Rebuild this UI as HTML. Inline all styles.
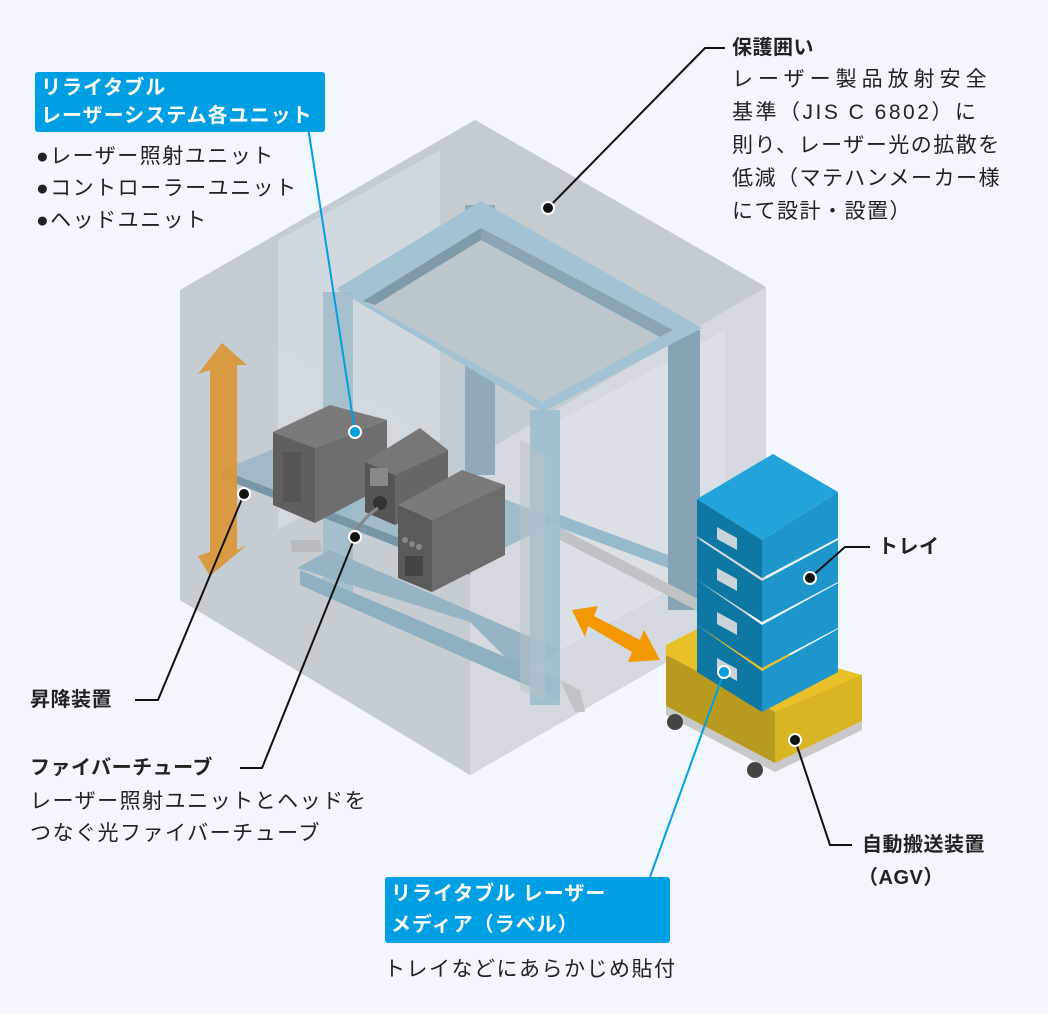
<!DOCTYPE html>
<html><head><meta charset="utf-8"><style>
html,body{margin:0;padding:0;background:#f1f7fc;}
body{width:1048px;height:1014px;position:relative;overflow:hidden;font-family:"Liberation Sans","Noto Sans CJK JP",sans-serif;color:#222;}
.t{position:absolute;font-size:21px;line-height:32px;white-space:nowrap;letter-spacing:1.5px;}
.b{font-weight:bold;font-size:20px;letter-spacing:0.5px;}
.box{position:absolute;background:#009fe3;color:#fff;font-size:20px;line-height:28px;padding:2px 6px;border-radius:3px;white-space:nowrap;letter-spacing:1px;font-weight:bold;}
svg{position:absolute;left:0;top:0;}
</style></head><body>
<svg width="1048" height="1014" viewBox="0 0 1048 1014">
<!-- enclosure -->
<polygon points="180,290 475,120 766,287 766,605 470,775 180,600" fill="#c9d0d6"/>
<polygon points="180,290 470,460 470,775 180,600" fill="#c5ccd2"/>
<polygon points="470,460 766,287 766,605 470,775" fill="#d3d9de"/>
<polygon points="180,290 475,120 766,287 470,460" fill="#c4cbd1"/>
<polygon points="278,240 440,150 440,440 278,530" fill="#d6dde2" opacity="0.7"/>
<polygon points="560,420 725,330 725,560 560,650" fill="#dfe5e9" opacity="0.6"/>
<!-- frame back leg, right leg -->
<rect x="465" y="205" width="30" height="270" fill="#8fabba"/>
<rect x="668" y="330" width="32" height="280" fill="#86a4b4"/>
<!-- rails -->
<polygon points="560,515 668,555 668,568 560,528" fill="#96b9cc"/>
<polygon points="560,528 700,600 700,612 560,540" fill="#bfc3c6"/>
<!-- top frame -->
<polygon points="336,289 481,201 702,328 543,412" fill="#a3c2d3"/>
<polygon points="363,301 481,228 673,330 543,402" fill="#bcc6cd"/>
<polygon points="363,301 481,228 481,240 375,305" fill="#7f9aa8"/>
<polygon points="481,228 673,330 660,337 481,240" fill="#8aa6b5"/>
<!-- left leg -->
<rect x="323" y="292" width="30" height="300" fill="#9fbccb" opacity="0.85"/>
<!-- lift table shelves -->
<polygon points="297,568 330,550 560,650 545,660 520,672 470,622" fill="#96b4c4"/>
<polygon points="222,470 320,430 560,520 470,565" fill="#9ab8c8" opacity="0.9"/>
<polygon points="222,470 470,565 470,575 222,478" fill="#7896a5"/>
<polygon points="300,570 560,680 560,700 300,585" fill="#8fb0c1"/>
<polygon points="290,540 320,540 322,552 292,552" fill="#b7bcc0"/>
<!-- units: tower -->
<polygon points="273,432 315,448 315,523 273,505" fill="#5f5f5f"/>
<polygon points="315,448 387,420 387,485 315,523" fill="#6e6e6e"/>
<polygon points="273,432 330,405 387,420 315,448" fill="#7a7a7a"/>
<rect x="283" y="452" width="18" height="50" fill="#555"/>
<!-- head unit -->
<polygon points="365,462 395,475 395,525 365,512" fill="#555"/>
<polygon points="395,475 448,450 448,500 395,525" fill="#666"/>
<polygon points="365,462 420,428 448,450 395,475" fill="#777"/>
<circle cx="380" cy="503" r="7" fill="#333"/>
<rect x="370" y="468" width="18" height="18" fill="#888"/>
<path d="M378 508 Q360 520 352 540" stroke="#888" stroke-width="3" fill="none"/>
<!-- controller -->
<polygon points="398,505 432,520 432,592 398,578" fill="#5a5a5a"/>
<polygon points="432,520 505,485 505,555 432,592" fill="#6c6c6c"/>
<polygon points="398,505 462,470 505,485 432,520" fill="#7a7a7a"/>
<circle cx="405" cy="540" r="3" fill="#888"/><circle cx="412" cy="544" r="3" fill="#888"/><circle cx="419" cy="547" r="3" fill="#888"/>
<rect x="405" y="556" width="18" height="20" fill="#444"/>
<!-- front leg -->
<rect x="530" y="410" width="30" height="295" fill="#9dbccd" opacity="0.9"/>
<polygon points="520,440 545,455 545,700 520,690" fill="#b9c2c8" opacity="0.5"/>
<polygon points="560,680 580,690 585,712 575,712" fill="#c0c4c7"/>
<!-- orange arrows -->
<polygon points="222,343 247,365 237,365 237,550 247,545 210,576 198,556 210,552 210,370 198,374" fill="#d9973a" opacity="0.95"/>
<polygon points="572,610 598,606 594,616 640,640 644,630 660,660 628,662 632,652 588,626 585,637" fill="#f39800"/>
<!-- AGV -->
<polygon points="666,645 697,629 862,675 862,721 775,763 666,706" fill="#e8c12a"/>
<polygon points="666,655 775,712 775,763 666,706" fill="#b89a20"/>
<polygon points="775,712 862,675 862,721 775,763" fill="#d8b524"/>
<polygon points="666,706 775,763 862,721 862,730 775,772 666,715" fill="#c8c8c8"/>
<circle cx="675" cy="722" r="8" fill="#444"/><circle cx="755" cy="770" r="8" fill="#444"/>
<!-- trays -->
<g>
<polygon points="697,625 762,671 762,712 697,672" fill="#0e77a3"/>
<polygon points="762,671 838,629 838,672 762,712" fill="#1e96cc"/>
<polygon points="697,580 762,625 762,668 697,625" fill="#0e77a3"/>
<polygon points="762,625 838,583 838,628 762,668" fill="#1e96cc"/>
<polygon points="697,538 762,581 762,622 697,580" fill="#0e77a3"/>
<polygon points="762,581 838,540 838,582 762,622" fill="#1e96cc"/>
<polygon points="697,499 762,540 762,578 697,536" fill="#0e77a3"/>
<polygon points="762,540 838,492 838,538 762,578" fill="#1e96cc"/>
<polygon points="697,499 773,454 838,492 762,540" fill="#22a3d9"/>
<polygon points="717,527 737,538 737,550 717,539" fill="#c9d4da"/>
<polygon points="717,568 737,579 737,591 717,580" fill="#c9d4da"/>
<polygon points="717,612 737,623 737,635 717,624" fill="#c9d4da"/>
<polygon points="717,658 737,669 737,681 717,670" fill="#c9d4da"/>
</g>
<!-- leaders black -->
<g stroke="#111" stroke-width="2" fill="none">
<polyline points="725,48 705,48 548,208"/>
<polyline points="870,547 845,547 810,578"/>
<polyline points="135,700 158,700 244,494"/>
<polyline points="240,768 262,768 355,537"/>
<polyline points="852,845 830,845 795,740"/>
</g>
<g stroke="#fff" stroke-width="2" fill="#111">
<circle cx="548" cy="208" r="6"/><circle cx="810" cy="578" r="6"/><circle cx="244" cy="494" r="6"/><circle cx="355" cy="537" r="6"/><circle cx="795" cy="740" r="6"/>
</g>
<g stroke="#009fe3" stroke-width="2" fill="none">
<line x1="308" y1="127" x2="355" y2="432"/>
<line x1="650" y1="877" x2="724" y2="672"/>
</g>
<g stroke="#fff" stroke-width="2" fill="#009fe3">
<circle cx="355" cy="432" r="6"/><circle cx="724" cy="672" r="6"/>
</g>
</svg>
<div class="t b" style="left:732px;top:32px;">保護囲い</div>
<div class="t" style="left:732px;top:64px;letter-spacing:5px;">レーザー製品放射安全</div>
<div class="t" style="left:732px;top:97px;letter-spacing:2.5px;">基準（JIS C 6802）に</div>
<div class="t" style="left:732px;top:130px;letter-spacing:1.5px;">則り、レーザー光の拡散を</div>
<div class="t" style="left:732px;top:163px;letter-spacing:1.5px;">低減（マテハンメーカー様</div>
<div class="t" style="left:732px;top:196px;letter-spacing:1.5px;">にて設計・設置）</div>
<div class="box" style="left:35px;top:72px;width:278px;">リライタブル<br>レーザーシステム各ユニット</div>
<div class="t" style="left:36px;top:141px;">●レーザー照射ユニット</div>
<div class="t" style="left:36px;top:173px;">●コントローラーユニット</div>
<div class="t" style="left:36px;top:205px;">●ヘッドユニット</div>
<div class="t b" style="left:878px;top:531px;">トレイ</div>
<div class="t b" style="left:30px;top:684px;">昇降装置</div>
<div class="t b" style="left:30px;top:752px;">ファイバーチューブ</div>
<div class="t" style="left:30px;top:786px;">レーザー照射ユニットとヘッドを</div>
<div class="t" style="left:30px;top:818px;">つなぐ光ファイバーチューブ</div>
<div class="t b" style="left:862px;top:829px;">自動搬送装置</div>
<div class="t b" style="left:858px;top:862px;">（AGV）</div>
<div class="box" style="left:385px;top:877px;width:273px;height:62px;line-height:31px;">リライタブル レーザー<br>メディア（ラベル）</div>
<div class="t" style="left:384px;top:954px;">トレイなどにあらかじめ貼付</div>
</body></html>
